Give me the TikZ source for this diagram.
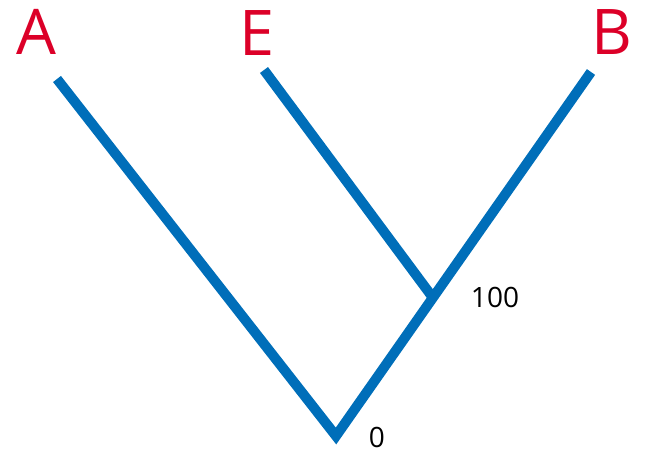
\documentclass[tikz,border=0pt]{standalone}
\usepackage{fontspec}
\setmainfont{Open Sans}
\usetikzlibrary{calc}
\definecolor{treeblue}{RGB}{0,110,185}
\definecolor{taxred}{RGB}{220,0,40}
\begin{document}
\begin{tikzpicture}[
  x=1pt, y=-1pt,
  branch/.style={line width=10pt, draw=treeblue, line cap=butt, line join=miter},
  taxon/.style={text=taxred, inner sep=0pt, font=\fontsize{63}{63}\selectfont},
  depth/.style={text=black, inner sep=0pt, font=\fontsize{28}{28}\selectfont}
]
  \useasboundingbox (0,0) rectangle (646,462);

  % Extremos de las ramas
  \coordinate (a) at (57,79);
  \coordinate (e) at (264,70);
  \coordinate (b) at (591,72);
  \coordinate (r) at (336,436);
  \coordinate (j) at ($(r)!0.38!(b)$);

  % Ramas del arbol
  \draw[branch] (a) -- (r) -- (b);
  \draw[branch] (e) -- (j);

  % Etiquetas de los taxones
  \node[taxon] (la) at (36,32) {A};
  \node[taxon] (le) at (257,33) {E};
  \node[taxon] (lb) at (612,32) {B};

  % Profundidades de los nodos
  \node[depth] (d100) at (495,297) {100};
  \node[depth] (d0) at (377,437) {0};
\end{tikzpicture}
\end{document}
